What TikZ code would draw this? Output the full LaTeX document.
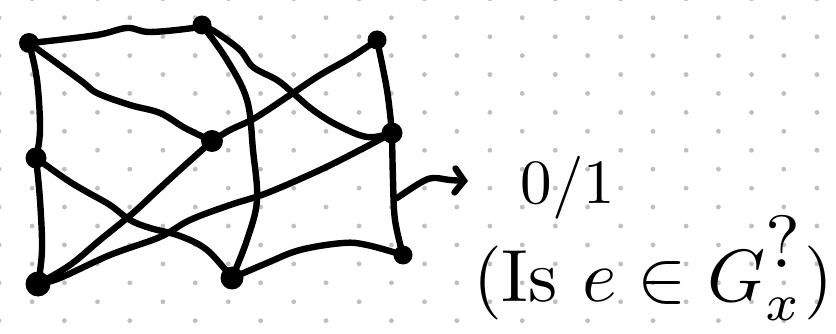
\documentclass[tikz,border=0pt]{standalone}
\usetikzlibrary{arrows.meta}
\begin{document}
\begin{tikzpicture}[x=1pt,y=-1pt,
  ink/.style={line width=6.4pt, line cap=round, line join=round},
  vtx/.style={circle, fill=black, inner sep=0pt, minimum size=#1},
  vtx/.default=18pt,
  griddot/.style={fill=black!25},
  label/.style={inner sep=0pt}]
\useasboundingbox (0,0) rectangle (836,334);
\fill[white] (0,0) rectangle (836,334);
\foreach \k in {0,...,8} {\foreach \j in {0,...,13} {\fill[griddot] (-1+65.4*\j, 17.7+37.87*\k) circle (2.4pt);}}
\foreach \k in {0,...,9} {\foreach \j in {0,...,12} {\fill[griddot] (32.1+65.4*\j, -1.2+37.87*\k) circle (2.4pt);}}
% vertices
\node[vtx=20pt] (n1) at (29,43) {};
\node[vtx=19pt] (n2) at (202,25) {};
\node[vtx=19pt] (n3) at (377,40) {};
\node[vtx=22pt] (n4) at (212,141) {};
\node[vtx=21pt] (n5) at (392,133) {};
\node[vtx=21pt] (n6) at (36,158) {};
\node[vtx=25pt] (n7) at (38,284) {};
\node[vtx=23pt] (n8) at (232,278) {};
\node[vtx=19pt] (n9) at (403,255) {};
% edges
\draw[ink] plot[smooth, tension=0.6] coordinates {(n1.center) (40,42) (97,35) (127,28) (150,32) (193,28) (n2.center)};
\draw[ink] plot[smooth, tension=0.6] coordinates {(n1.center) (37,80) (40,130) (n6.center)};
\draw[ink] plot[smooth, tension=0.6] coordinates {(n1.center) (80,80) (97,93) (130,105) (160,113) (185,128) (n4.center)};
\draw[ink] plot[smooth, tension=0.6] coordinates {(n2.center) (227,60) (247,100) (253,150) (257,200) (247,240) (n8.center)};
\draw[ink] plot[smooth, tension=0.6] coordinates {(n2.center) (217,33) (240,50) (253,67) (277,80) (293,93) (313,110) (337,125) (367,137) (n5.center)};
\draw[ink] plot[smooth, tension=0.6] coordinates {(n3.center) (350,58) (320,75) (290,95) (255,118) (230,130) (n4.center)};
\draw[ink] plot[smooth, tension=0.6] coordinates {(n4.center) (183,167) (160,188) (133,213) (100,240) (70,265) (n7.center)};
\draw[ink] plot[smooth, tension=0.6] coordinates {(n3.center) (387,90) (n5.center)};
\draw[ink] plot[smooth, tension=0.6] coordinates {(n5.center) (393,180) (395,220) (n9.center)};
\draw[ink] plot[smooth, tension=0.6] coordinates {(n5.center) (360,150) (320,170) (267,193) (230,205) (190,220) (160,237) (110,255) (60,278) (n7.center)};
\draw[ink] plot[smooth, tension=0.6] coordinates {(n6.center) (40,200) (42,250) (n7.center)};
\draw[ink] plot[smooth, tension=0.6] coordinates {(n6.center) (67,180) (87,192) (110,205) (130,220) (150,228) (180,236) (207,250) (n8.center)};
\draw[ink] plot[smooth, tension=0.6] coordinates {(n8.center) (267,263) (300,250) (343,243) (367,245) (n9.center)};
% arrow to output
\coordinate (a0) at (397,198);
\coordinate (a1) at (468,181);
\draw[ink, -{Straight Barb[length=9pt, width=24pt, line cap=round]}] plot[smooth, tension=0.6] coordinates {(a0) (420,183) (433,178) (450,180) (a1)};
% labels
\node[label] (t1) at (568,188) {\scalebox{6.3}{0/1}};
\node[label] (t2) at (653,268) {\scalebox{7.4}{(Is $e\in G^{\raisebox{1pt}{?}}_{x}$)}};
\end{tikzpicture}
\end{document}
